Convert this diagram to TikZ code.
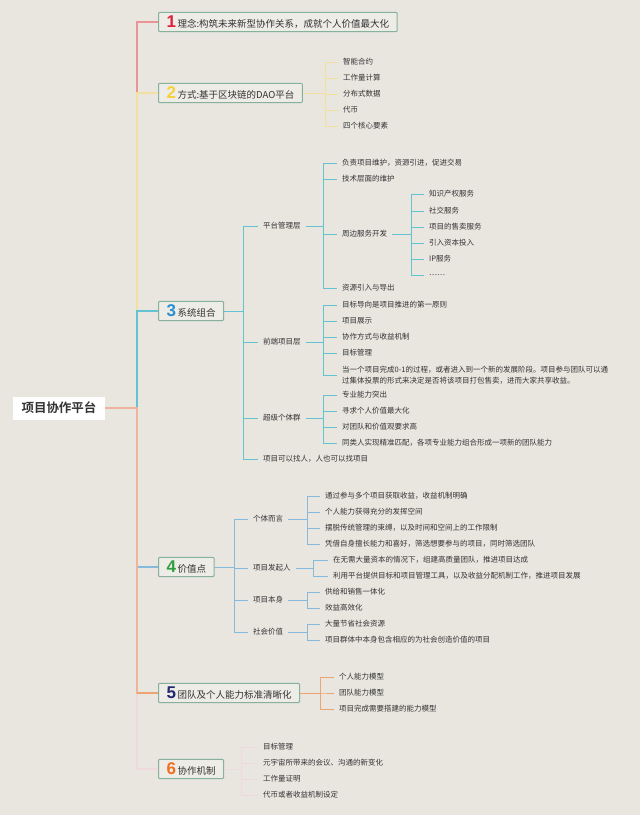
\documentclass[tikz,border=0pt]{standalone}
\usepackage{xcolor}
\usepackage{fontspec}
\usepackage{tikz}
\usetikzlibrary{calc}
\setmainfont{Noto Sans CJK SC}[BoldFont={Noto Sans CJK SC Bold}]
\newfontfamily\numfont{Liberation Sans}
\definecolor{paper}{HTML}{E9E6E0}
\definecolor{boxfill}{HTML}{EEECE7}
\definecolor{boxline}{HTML}{86B29C}
\definecolor{ink}{HTML}{333333}
\definecolor{lred}{HTML}{E99595}
\definecolor{lyellow}{HTML}{F3E0A0}
\definecolor{lcyan}{HTML}{63C3D3}
\definecolor{lblue}{HTML}{86BADC}
\definecolor{lsalmon}{HTML}{EFB49C}
\definecolor{lorange}{HTML}{EEA472}
\definecolor{lpink}{HTML}{EFD9DC}
\definecolor{nred}{HTML}{E0203A}
\definecolor{nyellow}{HTML}{F3D23C}
\definecolor{nblue}{HTML}{2A8FD2}
\definecolor{ngreen}{HTML}{2E9E3E}
\definecolor{nnavy}{HTML}{22296E}
\definecolor{norange}{HTML}{F07022}
\tikzset{
  topic/.style={anchor=west, draw=boxline, line width=1pt, fill=boxfill,
    rounded corners=1pt, inner xsep=8pt, minimum height=19pt, text=ink,
    font=\fontsize{9.5}{11}\selectfont},
  leaf/.style={anchor=west, inner xsep=5pt, inner ysep=1.5pt, text=ink,
    font=\fontsize{7.5}{11}\selectfont},
  trunk/.style={line width=1.5pt},
  twig/.style={line width=0.8pt}
}
\newcommand{\numtag}[2]{{\numfont\bfseries\fontsize{17}{17}\selectfont\color{#1}#2}\,}
\begin{document}
\begin{tikzpicture}[x=1pt,y=-1pt]
        \useasboundingbox [fill=paper] (0,0) rectangle (640,815);
        
        % Root
        \node [fill=white, minimum width=92pt, minimum height=23pt, text=ink,
          font=\fontsize{12.5}{14}\selectfont\bfseries] (root) at (59,408) {项目协作平台};%
        \coordinate (tr) at (137,0);%
        
        % Main topics
        \node [topic] (idea) at (158,22) {\numtag{nred}{1}理念:构筑未来新型协作关系，成就个人价值最大化};%
        \node [topic] (mode) at (158,93) {\numtag{nyellow}{2}方式:基于区块链的DAO平台};%
        \node [topic] (sys) at (158,311) {\numtag{nblue}{3}系统组合};%
        \node [topic] (val) at (158,567) {\numtag{ngreen}{4}价值点};%
        \node [topic] (team) at (158,693) {\numtag{nnavy}{5}团队及个人能力标准清晰化};%
        \node [topic] (coop) at (158,769) {\numtag{norange}{6}协作机制};%
        
        % Trunk, upper part
        \draw [trunk, lred] (root.east) -- (root.east -| tr) |- (idea.west);%
        \draw [trunk, lyellow] (root.east) -- (root.east -| tr) |- (mode.west);%
        \draw [trunk, lcyan] (root.east) -- (root.east -| tr) |- (sys.west);%
        
        % Trunk, lower part
        \draw [trunk, lblue] (root.east) -- (root.east -| tr) |- (val.west);%
        \draw [trunk, lpink] (root.east) -- (root.east -| tr) |- (coop.west);%
        \draw [trunk, lsalmon] (root.east) -- (root.east -| tr) |- (team.west);%
        \draw [line width=2pt, lorange] ($(team.west)+(-21,0)$) -- (team.west);%
        
        % Topic 2 leaves
        \coordinate (k2) at (325,0);%
        \node [leaf] (m1) at (338,62) {智能合约};%
        \node [leaf] (m2) at (338,78) {工作量计算};%
        \node [leaf] (m3) at (338,94) {分布式数据};%
        \node [leaf] (m4) at (338,110) {代币};%
        \node [leaf] (m5) at (338,126) {四个核心要素};%
        \foreach \c in {m1,m2,m3,m4,m5}
          \draw [twig, lyellow] (mode.east) -- (mode.east -| k2) |- (\c.west);%
        
        % Topic 3 branches
        \coordinate (k3) at (243,0);%
        \node [leaf] (pm) at (258,226) {平台管理层};%
        \node [leaf] (fe) at (258,342) {前端项目层};%
        \node [leaf] (sg) at (258,418) {超级个体群};%
        \node [leaf] (fi) at (258,459) {项目可以找人，人也可以找项目};%
        \foreach \c in {pm,fe,sg,fi}
          \draw [twig, lcyan] (sys.east) -- (sys.east -| k3) |- (\c.west);%
        
        % Platform management
        \coordinate (k31) at (323,0);%
        \node [leaf] (pm1) at (337,163) {负责项目维护，资源引进，促进交易};%
        \node [leaf] (pm2) at (337,179) {技术层面的维护};%
        \node [leaf] (sv) at (337,234) {周边服务开发};%
        \node [leaf] (pm4) at (337,288) {资源引入与导出};%
        \foreach \c in {pm1,pm2,sv,pm4}
          \draw [twig, lcyan] (pm.east) -- (pm.east -| k31) |- (\c.west);%
        
        % Peripheral services
        \coordinate (k311) at (411,0);%
        \node [leaf] (sv1) at (424,194) {知识产权服务};%
        \node [leaf] (sv2) at (424,211) {社交服务};%
        \node [leaf] (sv3) at (424,227) {项目的售卖服务};%
        \node [leaf] (sv4) at (424,243) {引入资本投入};%
        \node [leaf] (sv5) at (424,259) {IP服务};%
        \node [leaf] (sv6) at (424,275) {……};%
        \foreach \c in {sv1,sv2,sv3,sv4,sv5,sv6}
          \draw [twig, lcyan] (sv.east) -- (sv.east -| k311) |- (\c.west);%
        
        % Front-end projects
        \node [leaf] (fe1) at (337,305) {目标导向是项目推进的第一原则};%
        \node [leaf] (fe2) at (337,321) {项目展示};%
        \node [leaf] (fe3) at (337,337) {协作方式与收益机制};%
        \node [leaf] (fe4) at (337,353) {目标管理};%
        \node [leaf, align=left] (fe5) at (337,375) {当一个项目完成0-1的过程，或者进入到一个新的发展阶段。项目参与团队可以通\\过集体投票的形式来决定是否将该项目打包售卖，进而大家共享收益。};%
        \foreach \c in {fe1,fe2,fe3,fe4,fe5}
          \draw [twig, lcyan] (fe.east) -- (fe.east -| k31) |- (\c.west);%
        
        % Super individuals
        \node [leaf] (sg1) at (337,395) {专业能力突出};%
        \node [leaf] (sg2) at (337,411) {寻求个人价值最大化};%
        \node [leaf] (sg3) at (337,427) {对团队和价值观要求高};%
        \node [leaf] (sg4) at (337,443) {同类人实现精准匹配，各项专业能力组合形成一项新的团队能力};%
        \foreach \c in {sg1,sg2,sg3,sg4}
          \draw [twig, lcyan] (sg.east) -- (sg.east -| k31) |- (\c.west);%
        
        % Topic 4 branches
        \coordinate (k4) at (234,0);%
        \node [leaf] (ind) at (248,519) {个体而言};%
        \node [leaf] (ini) at (248,568) {项目发起人};%
        \node [leaf] (prj) at (248,600) {项目本身};%
        \node [leaf] (soc) at (248,632) {社会价值};%
        \foreach \c in {ind,ini,prj,soc}
          \draw [twig, lblue] (val.east) -- (val.east -| k4) |- (\c.west);%
        
        % Individuals
        \coordinate (k41) at (307,0);%
        \node [leaf] (ind1) at (320,496) {通过参与多个项目获取收益，收益机制明确};%
        \node [leaf] (ind2) at (320,512) {个人能力获得充分的发挥空间};%
        \node [leaf] (ind3) at (320,528) {摆脱传统管理的束缚，以及时间和空间上的工作限制};%
        \node [leaf] (ind4) at (320,544) {凭借自身擅长能力和喜好，筛选想要参与的项目，同时筛选团队};%
        \foreach \c in {ind1,ind2,ind3,ind4}
          \draw [twig, lblue] (ind.east) -- (ind.east -| k41) |- (\c.west);%
        
        % Initiators
        \coordinate (k42) at (313,0);%
        \node [leaf] (ini1) at (328,560) {在无需大量资本的情况下，组建高质量团队，推进项目达成};%
        \node [leaf] (ini2) at (328,576) {利用平台提供目标和项目管理工具，以及收益分配机制工作，推进项目发展};%
        \foreach \c in {ini1,ini2}
          \draw [twig, lblue] (ini.east) -- (ini.east -| k42) |- (\c.west);%
        
        % Projects and society
        \node [leaf] (prj1) at (320,592) {供给和销售一体化};%
        \node [leaf] (prj2) at (320,608) {效益高效化};%
        \foreach \c in {prj1,prj2}
          \draw [twig, lblue] (prj.east) -- (prj.east -| k41) |- (\c.west);%
        \node [leaf] (soc1) at (320,624) {大量节省社会资源};%
        \node [leaf] (soc2) at (320,640) {项目群体中本身包含相应的为社会创造价值的项目};%
        \foreach \c in {soc1,soc2}
          \draw [twig, lblue] (soc.east) -- (soc.east -| k41) |- (\c.west);%
        
        % Topic 5 leaves
        \coordinate (k5) at (320,0);%
        \node [leaf] (t1) at (334,677) {个人能力模型};%
        \node [leaf] (t2) at (334,693) {团队能力模型};%
        \node [leaf] (t3) at (334,709) {项目完成需要搭建的能力模型};%
        \foreach \c in {t1,t2,t3}
          \draw [twig, lorange] (team.east) -- (team.east -| k5) |- (\c.west);%
        
        % Topic 6 leaves
        \coordinate (k6) at (241,0);%
        \node [leaf] (c1) at (258,747) {目标管理};%
        \node [leaf] (c2) at (258,763) {元宇宙所带来的会议、沟通的新变化};%
        \node [leaf] (c3) at (258,779) {工作量证明};%
        \node [leaf] (c4) at (258,795) {代币或者收益机制设定};%
        \foreach \c in {c1,c2,c3,c4}
          \draw [twig, lpink] (coop.east) -- (coop.east -| k6) |- (\c.west);%
\end{tikzpicture}
\end{document}
